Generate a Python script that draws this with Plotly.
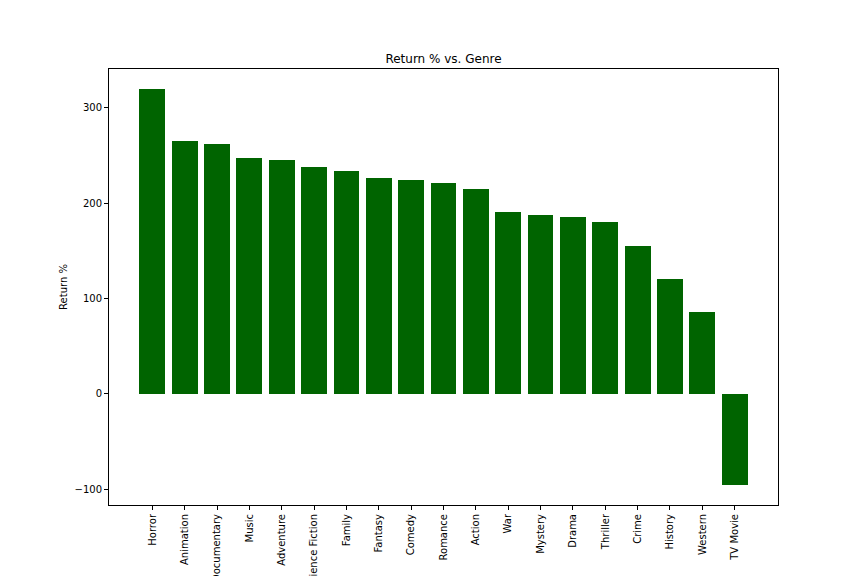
import plotly.graph_objects as go

genres = ["Horror", "Animation", "Documentary", "Music", "Adventure", "Science Fiction",
          "Family", "Fantasy", "Comedy", "Romance", "Action", "War", "Mystery", "Drama",
          "Thriller", "Crime", "History", "Western", "TV Movie"]
returns = [320.0, 265.3, 262.1, 247.4, 245.3, 237.9, 233.7, 226.3, 224.2, 221.1,
           214.7, 190.5, 187.4, 185.3, 180.0, 154.7, 120.0, 86.3, -95.8]

xpos = list(range(len(genres)))

fig = go.Figure(go.Bar(x=xpos, y=returns, width=0.8, marker=dict(color="#006400", line=dict(width=0))))

fig.update_layout(
    width=864, height=576,
    margin=dict(l=101, r=94, t=61, b=79, autoexpand=False),
    paper_bgcolor="white", plot_bgcolor="white",
    font=dict(family="DejaVu Sans", size=10, color="black"),
    title=dict(text="Return % vs. Genre", x=(101 + 669 / 2) / 864, xanchor="center",
               y=1 - 51 / 576, yanchor="middle",
               font=dict(size=12, color="black")),
    showlegend=False,
    bargap=0,
)
fig.update_xaxes(
    range=[-1.34, 19.34], tickmode="array", tickvals=xpos, ticktext=genres,
    tickangle=-90, ticks="outside", ticklen=4, tickcolor="black", showgrid=False,
    zeroline=False, showline=True, linecolor="black", linewidth=1, mirror=True,
    automargin=False,
)
fig.update_yaxes(
    range=[-116.6, 340.8], tickvals=[-100, 0, 100, 200, 300], ticks="outside", ticklen=4,
    tickcolor="black", showgrid=False, zeroline=False, showline=True, linecolor="black",
    linewidth=1, mirror=True, automargin=False,
    title=dict(text="Return %", font=dict(size=10), standoff=5),
)

fig.write_html("out.html")
